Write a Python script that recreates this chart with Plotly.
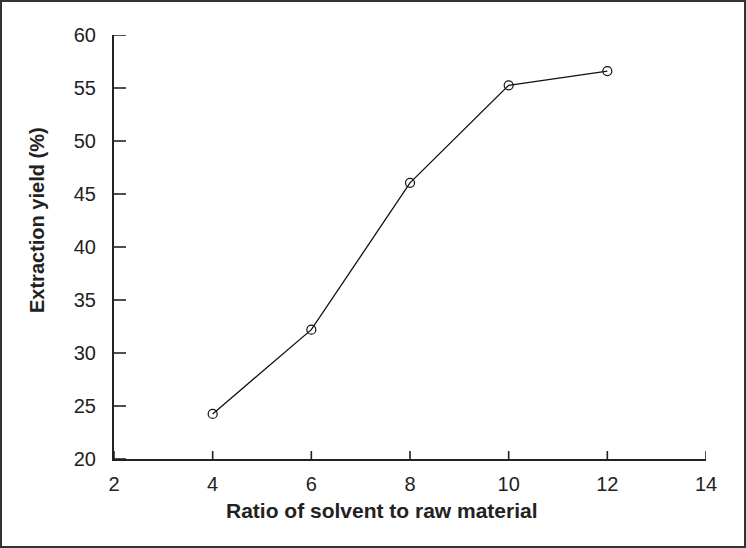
import plotly.graph_objects as go

ratio = [4, 6, 8, 10, 12]
yield_pct = [24.25, 32.2, 46.05, 55.25, 56.6]
x_ticks = [2, 4, 6, 8, 10, 12, 14]
y_ticks = [20, 25, 30, 35, 40, 45, 50, 55, 60]

L, R, T, B = 114, 40, 35, 89
W, H = 746, 548
pw, ph = W - L - R, H - T - B

FAM = "Liberation Sans, Arial, sans-serif"
INK = "#222222"

xr = [x_ticks[0], x_ticks[-1]]
yr = [y_ticks[0], y_ticks[-1]]

fig = go.Figure()
fig.add_trace(go.Scatter(
    x=ratio, y=yield_pct, mode="lines+markers",
    line=dict(color="#111111", width=1.3),
    marker=dict(symbol="circle-open", size=9, color="#111111", line=dict(width=1.2)),
    showlegend=False,
))

tickfont = dict(family=FAM, size=20, color=INK)
fig.update_layout(
    width=W, height=H,
    margin=dict(l=L, r=R, t=T, b=B),
    paper_bgcolor="white", plot_bgcolor="white",
    font=tickfont,
    xaxis=dict(range=xr, tickmode="array", tickvals=x_ticks, ticks="",
               showline=True, linecolor=INK, linewidth=2,
               showgrid=False, zeroline=False, tickfont=tickfont, ticklabelstandoff=6),
    yaxis=dict(range=yr, tickmode="array", tickvals=y_ticks, ticks="",
               showline=True, linecolor=INK, linewidth=2,
               showgrid=False, zeroline=False, tickfont=tickfont, ticklabelstandoff=12),
)

# inside tick marks: positioned at the tick values, lengths in paper fraction
for tv in x_ticks:
    fig.add_shape(type="line", xref="x", yref="paper", x0=tv, x1=tv,
                  y0=0, y1=8 / ph, layer="above",
                  line=dict(color=INK, width=1.6))
for tv in y_ticks:
    fig.add_shape(type="line", xref="paper", yref="y", y0=tv, y1=tv,
                  x0=0, x1=12 / pw, layer="above",
                  line=dict(color=INK, width=1.6))

fig.add_annotation(text="<b>Ratio of solvent to raw material</b>", xref="paper", yref="paper",
                   x=(382 - L) / pw, y=(H - B - 510) / ph, showarrow=False,
                   xanchor="center", yanchor="middle",
                   font=dict(family=FAM, size=21, color=INK))
fig.add_annotation(text="<b>Extraction yield (%)</b>", xref="paper", yref="paper",
                   x=(37 - L) / pw, y=(H - B - 220) / ph, showarrow=False, textangle=-90,
                   xanchor="center", yanchor="middle",
                   font=dict(family=FAM, size=20, color=INK))

fig.add_shape(type="rect", xref="paper", yref="paper",
              x0=(1 - L) / pw, x1=(W - 1 - L) / pw,
              y0=(H - B - (H - 1)) / ph, y1=(H - B - 1) / ph,
              line=dict(color="#333333", width=2), fillcolor="rgba(0,0,0,0)")

fig.write_html("out.html", config={"displayModeBar": False},
               post_script="document.body.style.margin='0';document.body.style.overflow='hidden';")
